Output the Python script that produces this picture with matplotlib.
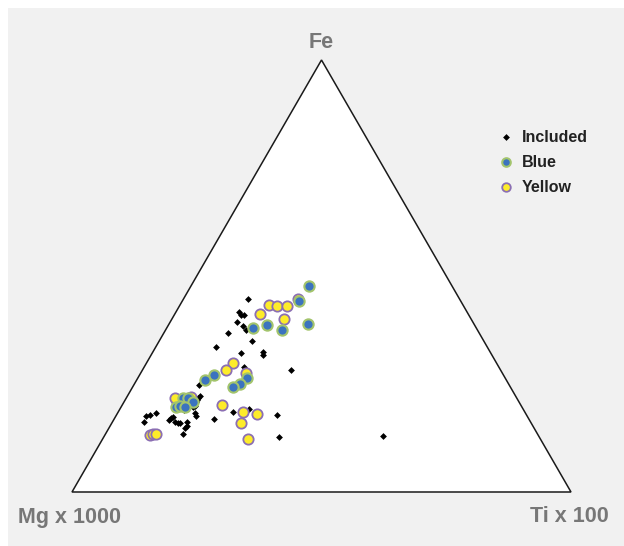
import numpy as np
import matplotlib.pyplot as plt
from matplotlib.patches import Rectangle, Polygon

# ternary values in percent (Fe, Ti); Mg = 100 - Fe - Ti
inc_fe = [44.7, 41.7, 41.0, 41.0, 39.4, 38.4, 37.5, 36.8, 35.0, 33.6, 32.2, 32.4, 31.7,
          28.2, 28.9, 24.8, 22.2, 21.8, 21.3, 20.8, 20.8, 19.7, 19.9, 19.0, 18.3, 17.6,
          17.6, 17.8, 18.3, 16.2, 17.1, 16.7, 17.4, 16.2, 16.0, 16.0, 16.2, 15.3, 14.8,
          13.4, 16.9, 18.5, 19.2, 17.8, 12.7, 13.0]
inc_ti = [12.9, 12.6, 13.4, 14.0, 13.4, 15.1, 16.1, 12.9, 18.6, 12.1, 17.8, 22.1, 22.4,
          29.8, 20.0, 13.1, 14.6, 14.4, 14.4, 14.4, 13.0, 14.4, 14.7, 12.9, 15.5, 16.0,
          6.0, 6.7, 7.7, 6.3, 11.2, 11.1, 11.5, 12.5, 13.2, 13.6, 14.9, 15.4, 15.2,
          15.5, 20.0, 23.0, 25.9, 32.2, 35.1, 55.8]

yel_fe = [43.3, 43.1, 43.1, 41.2, 40.0, 44.7, 29.9, 28.2, 27.5, 20.1, 18.5, 18.1, 16.0,
          12.3, 13.2, 13.4, 13.4, 20.8, 21.8, 22.0]
yel_ti = [17.9, 19.6, 21.6, 17.1, 22.5, 23.0, 17.4, 16.8, 21.1, 20.0, 25.0, 28.1, 25.9,
          29.2, 9.0, 9.5, 10.1, 10.6, 9.7, 12.8]

blu_fe = [47.7, 44.2, 38.9, 37.5, 38.7, 38.0, 27.1, 25.9, 26.4, 25.0, 24.3, 21.8, 21.8,
          20.8, 19.7, 19.9, 19.7]
blu_ti = [23.7, 23.4, 27.9, 23.3, 19.8, 17.3, 15.0, 13.7, 21.9, 21.2, 20.1, 11.3, 12.3,
          13.8, 11.0, 11.6, 12.8]

legend_labels = ['Included', 'Blue', 'Yellow']

H = np.sqrt(3) / 2


def to_xy(fe, ti):
    fe = np.array(fe) / 100.0
    ti = np.array(ti) / 100.0
    return ti + fe / 2, fe * H


fig = plt.figure(figsize=(6.24, 5.46), dpi=100)
fig.patch.set_facecolor('white')
fig.patches.append(Rectangle((8 / 624, 0), 1, 538 / 546, transform=fig.transFigure,
                             facecolor='#f1f1f1', edgecolor='none', zorder=-10))

ax = fig.add_axes([72 / 624, 54 / 546, 499 / 624, 432 / 546])
ax.set_xlim(0, 1)
ax.set_ylim(0, H)
ax.axis('off')

tri = Polygon([[0, 0], [1, 0], [0.5, H]], closed=True, facecolor='white',
              edgecolor='#1a1a1a', linewidth=1.1, clip_on=False, zorder=1)
ax.add_patch(tri)

styles = [dict(marker='D', s=12, c='black', linewidths=0),
          dict(marker='o', s=55, c='#3b73bf', edgecolors='#a3c46c', linewidths=1.5),
          dict(marker='o', s=55, c='#fdec2a', edgecolors='#8b6fb3', linewidths=1.3)]

x, y = to_xy(inc_fe, inc_ti)
ax.scatter(x, y, zorder=3, clip_on=False, **styles[0])
x, y = to_xy(blu_fe, blu_ti)
ax.scatter(x, y, zorder=4, clip_on=False, **styles[1])
x, y = to_xy(yel_fe, yel_ti)
ax.scatter(x, y, zorder=3.5, clip_on=False, **styles[2])

# legend drawn by hand (figure pixel positions)
for i, lbl in enumerate(legend_labels):
    py = 137 + 25 * i
    st = dict(styles[i])
    if i > 0:
        st['s'] = 38
    ax.scatter([506 / 624], [1 - py / 546], transform=fig.transFigure,
               clip_on=False, zorder=5, **st)
    fig.text(522 / 624, 1 - py / 546, lbl, family='Liberation Sans', weight='bold',
             size=11.5, color='#222222', ha='left', va='center')

lab = dict(family='Liberation Sans', weight='bold', size=15.5, color='#777777',
           ha='center', va='center')
fig.text(321 / 624, 1 - 43 / 546, 'Fe', **lab)
fig.text(70 / 624, 1 - 517 / 546, 'Mg x 1000', **lab)
fig.text(569 / 624, 1 - 517 / 546, 'Ti x 100', **lab)

fig.savefig('out.png', dpi=100, facecolor=fig.get_facecolor())
